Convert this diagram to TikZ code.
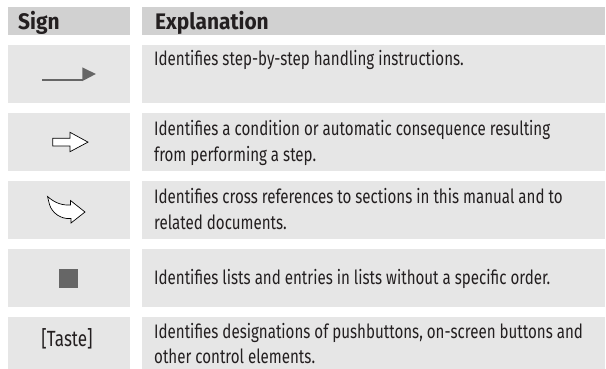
\documentclass[tikz,border=0pt]{standalone}
\usepackage{fontspec}
\setmainfont{Fira Sans}[FakeStretch=0.775]
\newfontfamily\headfont{Fira Sans}[FakeStretch=0.93,UprightFont=* Bold]
\definecolor{headgray}{HTML}{D1D1D1}
\definecolor{rowgray}{HTML}{E6E6E6}
\definecolor{icongray}{HTML}{666666}
\definecolor{txt}{HTML}{231F20}
\begin{document}
\begin{tikzpicture}[x=1pt,y=-1pt,
  headbox/.style={fill=headgray,draw=none},
  rowbox/.style={fill=rowgray,draw=none},
  headtxt/.style={anchor=base west,inner sep=0pt,text=txt,font=\headfont\fontsize{22.5}{26}\selectfont},
  bodytxt/.style={anchor=base west,inner sep=0pt,text=txt,font=\fontsize{19.5}{26}\selectfont},
  hollow/.style={draw=black,line width=0.7pt,fill=white,line join=miter}]
\useasboundingbox (0,0) rectangle (606,368);
\fill[white] (0,0) rectangle (606,368);
% header
\fill[headbox] (8,7) rectangle (130,35);
\fill[headbox] (142,7) rectangle (605,35);
\node[headtxt] (hsign) at (18,29.5) {Sign};
\node[headtxt] (hexpl) at (155,29.5) {Explanation};
% rows
\foreach \t/\n in {45/1,113/2,181/3,249/4,317/5}{
  \fill[rowbox] (8,\t) rectangle (130,\t+58);
  \fill[rowbox] (142,\t) rectangle (605,\t+58);
}
% row 1
\draw[icongray,line width=2.2pt] (42,80) -- (82.5,80);
\fill[icongray] (82.3,67.3) -- (95.8,74) -- (82.3,81.1) -- cycle;
\node[bodytxt] (t1) at (154,65) {Identifies step-by-step handling instructions.};
% row 2
\draw[hollow] (52.7,138.3) -- (70,138.3) -- (70,132.3) -- (88,142.1) -- (70,151.7) -- (70,146) -- (52.7,146) -- cycle;
\node[bodytxt] (t2a) at (154,135.5) {Identifies a condition or automatic consequence resulting};
\node[bodytxt] (t2b) at (154,161.5) {from performing a step.};
% row 3
\draw[hollow] (47.5,196.5) .. controls (55,203) and (62,205.5) .. (70.5,205) -- (70.5,200.5) -- (85,212) -- (71,223) -- (71,218.5) .. controls (61,219.5) and (52,213) .. (49.5,204.5) -- cycle;
\node[bodytxt] (t3a) at (154,203.5) {Identifies cross references to sections in this manual and to};
\node[bodytxt] (t3b) at (154,229.5) {related documents.};
% row 4
\fill[icongray] (59,269) rectangle (78,288);
\node[bodytxt] (t4) at (154,284.5) {Identifies lists and entries in lists without a specific order.};
% row 5
\node[anchor=base,inner sep=0pt,text=txt,font=\fontsize{22}{25}\selectfont] (taste) at (67,346) {[Taste]};
\node[bodytxt] (t5a) at (154,338.5) {Identifies designations of pushbuttons, on-screen buttons and};
\node[bodytxt] (t5b) at (154,363) {other control elements.};
\end{tikzpicture}
\end{document}
